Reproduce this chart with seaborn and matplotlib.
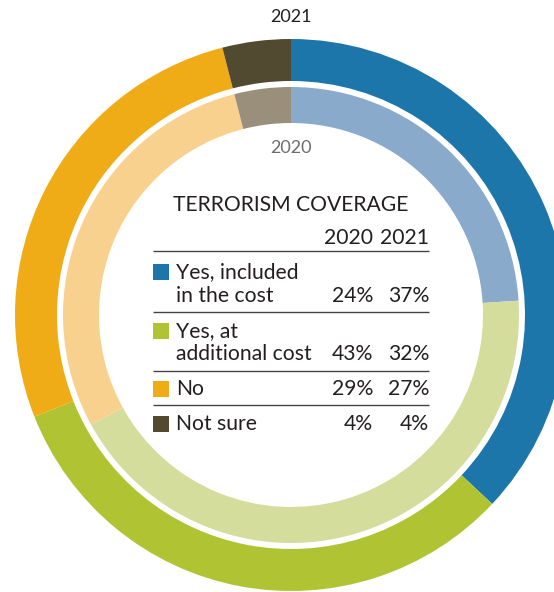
import matplotlib
matplotlib.use("Agg")
import matplotlib.pyplot as plt
import seaborn as sns
from matplotlib.patches import Rectangle

# ---- data ----
categories = ["Yes, included\nin the cost", "Yes, at\nadditional cost", "No", "Not sure"]
values_2020 = [24, 43, 29, 4]
values_2021 = [37, 32, 27, 4]
colors_2021 = ["#1d76a9", "#b0c433", "#f0ac17", "#514a30"]
colors_2020 = ["#8aaacb", "#d4dd9b", "#f8d18f", "#9a8f7a"]
title = "TERRORISM COVERAGE"
year_labels = ["2020", "2021"]

sns.set_theme(style="white")
plt.rcParams["font.family"] = ["Lato", "DejaVu Sans"]

W, H = 554, 592
fig = plt.figure(figsize=(W / 100, H / 100), dpi=100)
ax = fig.add_axes([0, 0, 1, 1])

def Y(y):
    return H - y

cx, cy = 291, Y(315)

ax.pie(values_2021, colors=colors_2021, radius=276, center=(cx, cy),
       startangle=90, counterclock=False,
       wedgeprops=dict(width=42, linewidth=0), frame=True)
ax.pie(values_2020, colors=colors_2020, radius=228, center=(cx, cy),
       startangle=90, counterclock=False,
       wedgeprops=dict(width=36, linewidth=0), frame=True)
ax.set_xlim(0, W)
ax.set_ylim(0, H)
ax.set_aspect("equal")
ax.axis("off")

txt = "#231f20"
fs = 15.2
ax.text(cx, Y(17), year_labels[1], ha="center", va="center", fontsize=13, color=txt)
ax.text(cx, Y(148), year_labels[0], ha="center", va="center", fontsize=13, color="#6d6d6d")

ax.text(291, Y(205), title, ha="center", va="center", fontsize=fs, color=txt)
xc1, xc2 = 373, 429
ax.text(xc1, Y(238), year_labels[0], ha="right", va="center", fontsize=fs, color=txt)
ax.text(xc2, Y(238), year_labels[1], ha="right", va="center", fontsize=fs, color=txt)

line_ys = [251, 312, 371, 405]
for ly in line_ys:
    ax.plot([153, 429], [Y(ly), Y(ly)], color="#444444", lw=1.0, solid_capstyle="butt")

row_first = [272, 331, 389, 424]
row_last = [296, 354, 389, 424]
for cat, v0, v1, col, y0, y1 in zip(categories, values_2020, values_2021, colors_2021, row_first, row_last):
    ax.add_patch(Rectangle((153, Y(y0) - 8), 16, 16, facecolor=col, edgecolor="none"))
    lines = cat.split("\n")
    for i, ln in enumerate(lines):
        yy = y0 + i * (y1 - y0) / (len(lines) - 1) if len(lines) > 1 else y0
        ax.text(176, Y(yy), ln, ha="left", va="center", fontsize=fs, color=txt)
    ax.text(xc1, Y(y1), f"{v0}%", ha="right", va="center", fontsize=fs, color=txt)
    ax.text(xc2, Y(y1), f"{v1}%", ha="right", va="center", fontsize=fs, color=txt)

fig.savefig("out.png", dpi=100)
